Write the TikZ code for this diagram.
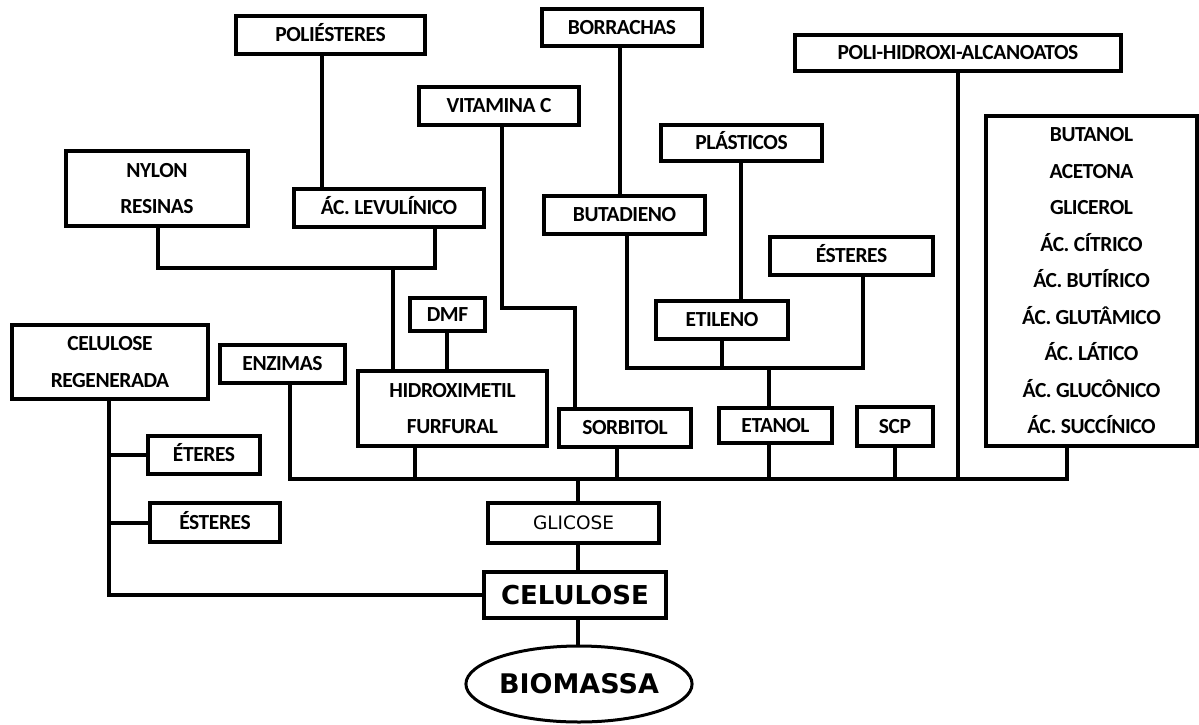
\documentclass[tikz,border=0pt]{standalone}
\usepackage{fontspec}
\setmainfont{Carlito}[LetterSpace=-2]
\newfontfamily\wideface{DejaVu Sans}
\usetikzlibrary{shapes.geometric}
\begin{document}
\begin{tikzpicture}[x=1pt,y=-1pt,
  wh/.style 2 args={minimum width=#1pt, minimum height=#2pt},
  box/.style={draw, line width=4pt, inner sep=0pt, text height=13.8pt, text depth=0pt,
    font=\fontsize{21.5}{24}\selectfont\bfseries},
  tallbox/.style={draw, line width=4pt, inner sep=0pt, align=center,
    font=\fontsize{21.5}{36.5}\selectfont\bfseries},
  conn/.style={line width=4pt},
]
\useasboundingbox (0,0) rectangle (1199,724);

% products and intermediates
\node[box, wh={189}{38}] (poliest) at (330.5,35) {POLIÉSTERES};
\node[box, wh={160}{37}] (borr) at (622,27.5) {BORRACHAS};
\node[box, wh={160}{38}] (vitc) at (499,106) {VITAMINA C};
\node[box, wh={326}{36}] (pha) at (958,53) {POLI-HIDROXI-ALCANOATOS};
\node[box, wh={161}{36}] (plast) at (741.5,143) {PLÁSTICOS};
\node[tallbox, wh={211}{330}] (acids) at (1091.5,281)
  {BUTANOL\\ACETONA\\GLICEROL\\ÁC. CÍTRICO\\ÁC. BUTÍRICO\\ÁC. GLUTÂMICO\\ÁC. LÁTICO\\ÁC. GLUCÔNICO\\ÁC. SUCCÍNICO};
\node[tallbox, wh={182}{75}] (nylon) at (157,188.5) {NYLON\\RESINAS};
\node[box, wh={190}{38}] (levul) at (389,208) {ÁC. LEVULÍNICO};
\node[box, wh={161}{38}] (butad) at (624.5,215) {BUTADIENO};
\node[box, wh={163}{38}] (esterR) at (851.5,256) {ÉSTERES};
\node[box, wh={75}{33}] (dmf) at (447.5,314.5) {DMF};
\node[box, wh={132}{38}] (etil) at (722,320) {ETILENO};
\node[tallbox, wh={196}{74}] (celreg) at (110,362) {CELULOSE\\REGENERADA};
\node[box, wh={125}{38}] (enz) at (282.5,364) {ENZIMAS};
\node[tallbox, wh={189}{75}] (hmf) at (452.5,408.5) {HIDROXIMETIL\\FURFURAL};
\node[box, wh={132}{38}] (sorb) at (625,428) {SORBITOL};
\node[box, wh={113}{35}] (etan) at (775.5,425.5) {ETANOL};
\node[box, wh={76}{39}] (scp) at (895,426.5) {SCP};
\node[box, wh={112}{38}] (eteres) at (204,455) {ÉTERES};
\node[box, wh={130}{39}] (esterL) at (215,522.5) {ÉSTERES};

% main chain
\node[draw, line width=4pt, inner sep=0pt, wh={171}{40}, text height=13.5pt, text depth=0pt,
  font=\wideface\fontsize{18.5}{20}\selectfont] (glic) at (573.5,523) {GLICOSE};
\node[draw, line width=4pt, inner sep=0pt, wh={182}{46}, text height=19pt, text depth=0pt,
  font=\wideface\bfseries\fontsize{26}{30}\selectfont] (celu) at (575,595) {CELULOSE};
\node[ellipse, draw, line width=3pt, inner sep=0pt, wh={191}{76}, text height=19.7pt, text depth=0pt,
  font=\wideface\bfseries\fontsize{27}{30}\selectfont] (bio) at (579,684) {BIOMASSA};

% junction points
\coordinate (busL) at (290,479);
\coordinate (busR) at (1067,479);
\coordinate (levJ) at (393,268);
\coordinate (vitJ) at (502,308);
\coordinate (etJ)  at (769,368);

% upper branches
\draw[conn] (322,0 |- poliest.south) -- (322,0 |- levul.north);
\draw[conn] (620,0 |- borr.south) -- (620,0 |- butad.north);
\draw[conn] (502,0 |- vitc.south) -- (vitJ) -- (575,308) -- (575,0 |- sorb.north);
\draw[conn] (741,0 |- plast.south) -- (741,0 |- etil.north);
\draw[conn] (158,0 |- nylon.south) -- (158,268) -- (435,268) -- (435,0 |- levul.south);
\draw[conn] (levJ) -- (393,0 |- hmf.north);
\draw[conn] (447,0 |- dmf.south) -- (447,0 |- hmf.north);
\draw[conn] (627,0 |- butad.south) -- (627,368) -- (863,368) -- (863,0 |- esterR.south);
\draw[conn] (722,0 |- etil.south) -- (722,368);
\draw[conn] (etJ) -- (769,0 |- etan.north);

% glucose bus
\draw[conn] (290,0 |- enz.south) -- (busL) -- (busR) -- (1067,0 |- acids.south);
\draw[conn] (415,0 |- hmf.south) -- (415,479);
\draw[conn] (617,0 |- sorb.south) -- (617,479);
\draw[conn] (769,0 |- etan.south) -- (769,479);
\draw[conn] (895,0 |- scp.south) -- (895,479);
\draw[conn] (958,0 |- pha.south) -- (958,479);
\draw[conn] (578,479) -- (578,0 |- glic.north);
\draw[conn] (578,0 |- glic.south) -- (578,0 |- celu.north);
\draw[conn] (578,0 |- celu.south) -- (578,0 |- bio.north);

% regenerated cellulose branch
\draw[conn] (109,0 |- celreg.south) -- (109,0 |- celu.west) -- (celu.west);
\draw[conn] (109,0 |- eteres.west) -- (eteres.west);
\draw[conn] (109,0 |- esterL.west) -- (esterL.west);
\end{tikzpicture}
\end{document}
